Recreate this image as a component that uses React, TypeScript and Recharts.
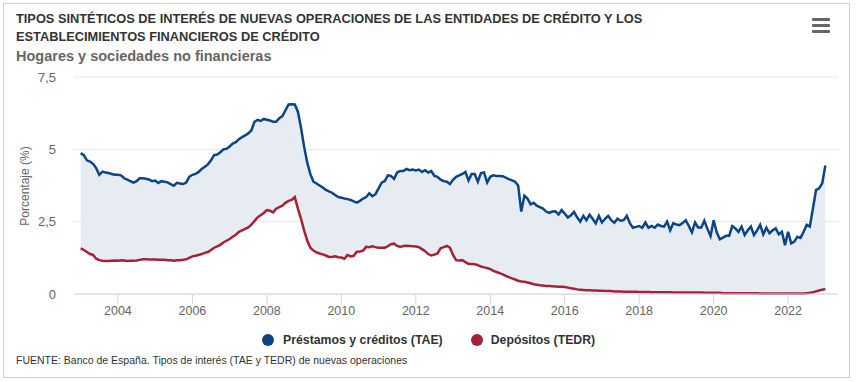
import React from 'react';
import { ComposedChart, Area, Line, XAxis, YAxis, CartesianGrid } from 'recharts';

const START_YEAR = 2003;
const X_TICKS = [2004, 2006, 2008, 2010, 2012, 2014, 2016, 2018, 2020, 2022];
const Y_TICKS = [0, 2.5, 5, 7.5];

// monthly values, Jan 2003 .. Jan 2023
const prestamos = [
  4.87, 4.8, 4.62, 4.58, 4.5, 4.35, 4.12, 4.23, 4.2, 4.18, 4.15, 4.12,
  4.12, 4.1, 4.0, 3.95, 3.9, 3.85, 3.9, 4.0, 4.0, 3.98, 3.96, 3.9,
  3.92, 3.84, 3.9, 3.88, 3.86, 3.8, 3.74, 3.84, 3.82, 3.8, 3.85, 4.05,
  4.12, 4.15, 4.22, 4.32, 4.4, 4.48, 4.62, 4.8, 4.82, 4.9, 5.0, 5.02,
  5.1, 5.2, 5.25, 5.35, 5.42, 5.48, 5.55, 5.65, 5.95, 6.02, 5.98, 6.05,
  6.02, 6.0, 5.95, 5.95, 6.08, 6.15, 6.35, 6.55, 6.56, 6.55, 6.3, 5.75,
  5.1, 4.55, 4.15, 3.88, 3.82, 3.75, 3.68, 3.6, 3.55, 3.5, 3.42, 3.35,
  3.33, 3.3, 3.28, 3.25, 3.2, 3.16, 3.22, 3.3, 3.35, 3.48, 3.38, 3.45,
  3.65, 3.85, 3.9, 4.1, 4.08, 3.98, 4.2, 4.25, 4.25, 4.32, 4.28, 4.3,
  4.27, 4.3, 4.22, 4.28, 4.2, 4.25, 4.08, 4.05, 3.95, 3.9, 3.88, 3.8,
  3.95, 4.05, 4.1, 4.15, 4.22, 3.92, 4.15, 4.15, 3.88, 4.18, 4.2, 3.85,
  4.05, 4.1, 4.08, 4.08, 4.07, 4.02, 3.97, 3.93, 3.88, 3.75, 2.85, 3.4,
  3.3, 3.1, 3.15, 3.05, 3.0, 2.95, 2.85, 2.8, 2.85, 2.86, 2.75, 2.9,
  2.78, 2.64, 2.72, 2.84, 2.65, 2.5, 2.7, 2.55, 2.74, 2.6, 2.44, 2.7,
  2.47, 2.6, 2.7, 2.55, 2.46, 2.6, 2.53, 2.55, 2.7, 2.45, 2.29, 2.32,
  2.35, 2.29, 2.47, 2.29, 2.35, 2.29, 2.4, 2.35, 2.33, 2.5, 2.2, 2.45,
  2.4, 2.38, 2.45, 2.55, 2.35, 2.13, 2.47, 2.3, 2.3, 2.53, 2.25, 2.0,
  2.55, 2.13, 1.89, 1.95, 2.01, 2.01, 2.35, 2.27, 2.15, 2.33, 2.04, 2.2,
  2.33, 2.04, 2.2, 2.39, 2.06, 2.29, 2.1, 2.2, 2.27, 2.06, 2.15, 1.69,
  2.15, 1.75, 1.81, 1.98, 1.94, 2.15, 2.39, 2.33, 2.96, 3.59, 3.65, 3.83,
  4.44,
];

const depositos = [
  1.58, 1.52, 1.45, 1.38, 1.35, 1.22, 1.17, 1.15, 1.14, 1.14, 1.15, 1.16,
  1.15, 1.17, 1.16, 1.14, 1.15, 1.15, 1.16, 1.18, 1.2, 1.2, 1.19, 1.19,
  1.19, 1.18, 1.18, 1.18, 1.17, 1.17, 1.15, 1.17, 1.17, 1.18, 1.2, 1.25,
  1.3, 1.32, 1.35, 1.38, 1.42, 1.45, 1.52, 1.6, 1.65, 1.7, 1.78, 1.84,
  1.9, 1.98, 2.05, 2.15, 2.2, 2.25, 2.3, 2.4, 2.52, 2.65, 2.72, 2.8,
  2.9, 2.88, 2.82, 2.95, 3.0, 3.05, 3.15, 3.22, 3.25, 3.35, 2.95, 2.6,
  2.2, 1.85, 1.6, 1.5, 1.44, 1.4, 1.37, 1.33, 1.28, 1.28, 1.3, 1.27,
  1.26, 1.22, 1.35, 1.3, 1.32, 1.46, 1.47, 1.5, 1.63, 1.62, 1.65, 1.62,
  1.6, 1.6, 1.6, 1.65, 1.72, 1.74, 1.66, 1.63, 1.66, 1.67, 1.66, 1.65,
  1.64, 1.62, 1.55, 1.48, 1.38, 1.33, 1.36, 1.4, 1.58, 1.62, 1.66, 1.6,
  1.35, 1.17, 1.16, 1.17, 1.1, 1.04, 1.04, 1.03, 1.0, 0.95, 0.92, 0.9,
  0.86, 0.8, 0.76, 0.72, 0.68, 0.63, 0.58, 0.54, 0.5, 0.46, 0.43, 0.42,
  0.4, 0.37, 0.34, 0.32, 0.3, 0.29, 0.28, 0.28, 0.27, 0.26, 0.25, 0.25,
  0.24, 0.22, 0.2, 0.18, 0.16, 0.15, 0.14, 0.13, 0.13, 0.12, 0.12, 0.11,
  0.11, 0.1, 0.1, 0.1, 0.09, 0.09, 0.09, 0.08, 0.08, 0.08, 0.08, 0.08,
  0.07, 0.07, 0.07, 0.07, 0.06, 0.06, 0.06, 0.06, 0.06, 0.06, 0.06, 0.05,
  0.05, 0.05, 0.05, 0.05, 0.05, 0.05, 0.05, 0.05, 0.05, 0.04, 0.04, 0.04,
  0.04, 0.04, 0.04, 0.03, 0.03, 0.03, 0.03, 0.03, 0.03, 0.03, 0.03, 0.03,
  0.03, 0.03, 0.03, 0.02, 0.02, 0.02, 0.02, 0.02, 0.02, 0.02, 0.02, 0.02,
  0.02, 0.02, 0.02, 0.02, 0.02, 0.02, 0.03, 0.04, 0.06, 0.09, 0.12, 0.15,
  0.17,
];

const BLUE = '#0b4585';
const RED = '#a62135';
const FONT = '"Liberation Sans", Arial, sans-serif';

const data = prestamos.map((p, i) => ({
  t: START_YEAR + i / 12,
  prestamos: p,
  depositos: depositos[i],
  gap: [depositos[i], p],
}));

const fmt = (v: number) => String(v).replace('.', ',');

const App: React.FC = () => {
  return (
    <div style={{ position: 'fixed', left: 0, top: 0, width: 856, height: 382, background: '#fff', fontFamily: FONT }}>
      <div style={{ position: 'absolute', left: 3, top: 3, width: 845, height: 373, border: '1px solid #d0d0d0' }} />
      <div style={{ position: 'absolute', left: 16, top: 10, width: 780, fontSize: 12.8, fontWeight: 'bold', color: '#333', lineHeight: '18px', whiteSpace: 'nowrap' }}>
        TIPOS SINTÉTICOS DE INTERÉS DE NUEVAS OPERACIONES DE LAS ENTIDADES DE CRÉDITO Y LOS
        <br />
        ESTABLECIMIENTOS FINANCIEROS DE CRÉDITO
      </div>
      <div style={{ position: 'absolute', left: 16, top: 48, fontSize: 14.5, fontWeight: 'bold', color: '#666' }}>
        Hogares y sociedades no financieras
      </div>
      {[18, 24, 30].map((y) => (
        <div key={y} style={{ position: 'absolute', left: 812, top: y, width: 18, height: 3, background: '#666', borderRadius: 1 }} />
      ))}
      <div style={{ position: 'absolute', left: 25, top: 186, width: 0, height: 0 }}>
        <div style={{ position: 'absolute', left: -60, top: -8, width: 120, textAlign: 'center', transform: 'rotate(-90deg)', fontSize: 12, color: '#666', lineHeight: '16px' }}>
          Porcentaje (%)
        </div>
      </div>
      <div style={{ position: 'absolute', left: 0, top: 0 }}>
        <ComposedChart width={856} height={382} data={data} margin={{ top: 77, right: 18, bottom: 58, left: 14 }}>
          <CartesianGrid vertical={false} stroke="#e6e6e6" />
          <XAxis
            type="number"
            dataKey="t"
            domain={[2002.82, 2023.34]}
            ticks={X_TICKS}
            height={30}
            stroke="#ccd6eb"
            tickSize={10}
            tickMargin={2}
            tick={{ fill: '#666', fontSize: 12.5, fontFamily: FONT }}
          />
          <YAxis
            domain={[0, 7.5]}
            ticks={Y_TICKS}
            width={60}
            axisLine={false}
            tickLine={false}
            tickMargin={12}
            tickFormatter={fmt}
            tick={{ fill: '#666', fontSize: 13, fontFamily: FONT }}
          />
          <Area dataKey="gap" stroke="none" fill="#e7ecf3" fillOpacity={1} isAnimationActive={false} />
          <Line dataKey="depositos" stroke={RED} strokeWidth={2.5} dot={false} isAnimationActive={false} />
          <Line dataKey="prestamos" stroke={BLUE} strokeWidth={2.5} dot={false} isAnimationActive={false} />
        </ComposedChart>
      </div>
      <div style={{ position: 'absolute', left: 262, top: 333, display: 'flex', alignItems: 'center', fontSize: 12.3, fontWeight: 'bold', color: '#333' }}>
        <span style={{ width: 12, height: 12, borderRadius: '50%', background: BLUE, marginRight: 9 }} />
        <span>Préstamos y créditos (TAE)</span>
        <span style={{ width: 12, height: 12, borderRadius: '50%', background: RED, marginLeft: 28, marginRight: 8 }} />
        <span>Depósitos (TEDR)</span>
      </div>
      <div style={{ position: 'absolute', left: 16, top: 354, fontSize: 10.5, color: '#333' }}>
        FUENTE: Banco de España. Tipos de interés (TAE y TEDR) de nuevas operaciones
      </div>
    </div>
  );
};

export default App;
